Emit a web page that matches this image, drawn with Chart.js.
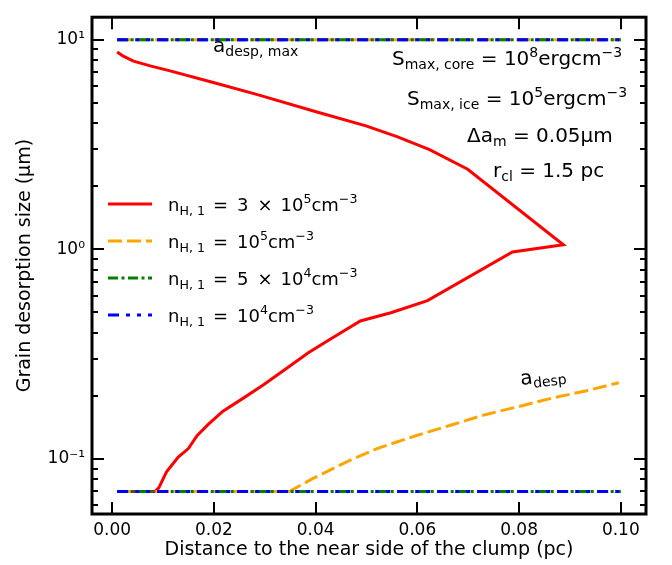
<!DOCTYPE html>
<html>
<head>
<meta charset="utf-8">
<script src="https://cdn.jsdelivr.net/npm/chart.js@4/dist/chart.umd.min.js"></script>
<style>
html,body{margin:0;padding:0;background:#fff;}
#c{display:block;}
</style>
</head>
<body>
<canvas id="c" width="672" height="565" style="width:672px;height:565px"></canvas>
<script>
// ---------------- data ----------------
const xTicks = [0.00, 0.02, 0.04, 0.06, 0.08, 0.10];
const yTicks = [0.1, 1, 10];
const yTickLabels = ['10\u207B\u00B9', '10\u2070', '10\u00B9'];

// red: n_H,1 = 3e5 (closed loop: lower branch out, upper branch back)
const redX = [0.001, 0.0085, 0.0092, 0.0107, 0.013, 0.015, 0.0167, 0.0189, 0.0218, 0.0258, 0.0297, 0.0342, 0.0385, 0.0427, 0.0488, 0.0548, 0.062, 0.0787, 0.0887,
              0.0699, 0.0624, 0.056, 0.0499, 0.0401, 0.0284, 0.0199, 0.0114, 0.0075, 0.0042, 0.0022, 0.001];
const redY = [0.07, 0.07, 0.073, 0.0867, 0.102, 0.112, 0.129, 0.146, 0.169, 0.195, 0.225, 0.269, 0.32, 0.37, 0.455, 0.498, 0.569, 0.971, 1.05,
              2.41, 2.99, 3.45, 3.88, 4.53, 5.48, 6.25, 7.1, 7.5, 7.9, 8.34, 8.74];

// orange: n_H,1 = 1e5 (a_desp)
const orangeX = [0.001, 0.0349, 0.0395, 0.046, 0.0525, 0.0597, 0.067, 0.0735, 0.08, 0.0865, 0.0931, 0.0996];
const orangeY = [0.07, 0.07, 0.0807, 0.0966, 0.113, 0.129, 0.146, 0.163, 0.178, 0.195, 0.211, 0.231];

// flat limits (a_desp,max and lower bound)
const flatX = [0.001, 0.1];
const aMaxY = [10, 10];
const aMinY = [0.07, 0.07];

const X_MIN = -0.00395, X_MAX = 0.10495;
const Y_MIN = 0.0546, Y_MAX = 12.8;

const pts = (xs, ys) => xs.map((x, i) => ({x: x, y: ys[i]}));
const FONT = "'DejaVu Sans', sans-serif";

const RED = '#ff0000', ORANGE = '#ffa500', GREEN = '#008000', BLUE = '#0000ff';
const DASH_O = [14, 5], DASH_G = [10, 3.5, 3, 3.5], DASH_B = [11, 7, 4, 7, 4, 7];

function ds(data, color, dash) {
  return {data: data, showLine: true, borderColor: color, backgroundColor: color,
          borderWidth: 3, borderDash: dash, pointRadius: 0, tension: 0, fill: false};
}

const datasets = [
  ds(pts(flatX, aMaxY), BLUE, DASH_B),
  ds(pts(flatX, aMinY), BLUE, DASH_B),
  ds(pts(flatX, aMaxY), GREEN, DASH_G),
  ds(pts(flatX, aMinY), GREEN, DASH_G),
  ds(pts(flatX, aMaxY), ORANGE, DASH_O),
  ds(pts(orangeX, orangeY), ORANGE, DASH_O),
  ds(pts(redX, redY), RED, []),
];

// ---------- rich text helper (sub/superscripts, gaps) ----------
// segment: [text, type, gapPx]; type 0 normal, 1 sub, 2 sup, 3 gap
function drawRich(ctx, x, y, segs, size) {
  ctx.textBaseline = 'alphabetic';
  ctx.textAlign = 'left';
  let cx = x;
  for (const s of segs) {
    const type = s[1] || 0;
    if (type === 3) { cx += s[2]; continue; }
    const fs = type ? size * 0.7 : size;
    ctx.font = fs + 'px ' + FONT;
    let dy = 0;
    if (type === 1) dy = size * 0.22;
    if (type === 2) dy = -size * 0.42;
    ctx.fillText(s[0], cx, y + dy);
    cx += ctx.measureText(s[0]).width;
  }
}

const G = (px) => ['', 3, px];
const legendItems = [
  {color: RED, dash: [], segs: [['n'], ['H,', 1], G(4), ['1', 1], G(8), ['='], G(9), ['3'], G(9), ['\u00D7'], G(8), ['10'], ['5', 2], ['cm'], ['\u22123', 2]]},
  {color: ORANGE, dash: DASH_O, segs: [['n'], ['H,', 1], G(4), ['1', 1], G(8), ['='], G(9), ['10'], ['5', 2], ['cm'], ['\u22123', 2]]},
  {color: GREEN, dash: DASH_G, segs: [['n'], ['H,', 1], G(4), ['1', 1], G(8), ['='], G(9), ['5'], G(9), ['\u00D7'], G(8), ['10'], ['4', 2], ['cm'], ['\u22123', 2]]},
  {color: BLUE, dash: DASH_B, segs: [['n'], ['H,', 1], G(4), ['1', 1], G(8), ['='], G(9), ['10'], ['4', 2], ['cm'], ['\u22123', 2]]},
];
const legendY = [204, 241, 278, 315];

const annotations = [
  {x: 392, y: 65, segs: [['S'], ['max, core', 1], [' = 10'], ['8', 2], ['ergcm'], ['\u22123', 2]]},
  {x: 407, y: 105, segs: [['S'], ['max, ice', 1], [' = 10'], ['5', 2], ['ergcm'], ['\u22123', 2]]},
  {x: 467, y: 142, segs: [['\u0394a'], ['m', 1], [' = 0.05\u03BCm']]},
  {x: 493, y: 177, segs: [['r'], ['cl', 1], [' = 1.5 pc']]},
];

const decorPlugin = {
  id: 'decor',
  afterDraw(chart) {
    const ctx = chart.ctx;
    const a = chart.chartArea;
    const xs = chart.scales.x, ys = chart.scales.y;
    ctx.save();
    ctx.strokeStyle = '#000';
    ctx.fillStyle = '#000';
    // ticks inward
    ctx.lineWidth = 2;
    ctx.setLineDash([]);
    ctx.beginPath();
    for (const v of xTicks) {
      const px = Math.round(xs.getPixelForValue(v));
      ctx.moveTo(px, a.bottom); ctx.lineTo(px, a.bottom - 12);
      ctx.moveTo(px, a.top); ctx.lineTo(px, a.top + 12);
    }
    for (let e = -2; e <= 1; e++) {
      for (let m = 1; m <= 9; m++) {
        const v = m * Math.pow(10, e);
        if (v < Y_MIN || v > Y_MAX) continue;
        const py = Math.round(ys.getPixelForValue(v));
        const len = m === 1 ? 12 : 6;
        ctx.moveTo(a.left, py); ctx.lineTo(a.left + len, py);
        ctx.moveTo(a.right, py); ctx.lineTo(a.right - len, py);
      }
    }
    ctx.stroke();
    // frame
    ctx.lineWidth = 3;
    ctx.strokeRect(a.left, a.top, a.right - a.left, a.bottom - a.top);

    // legend
    for (let i = 0; i < legendItems.length; i++) {
      const it = legendItems[i];
      const y = legendY[i];
      ctx.strokeStyle = it.color;
      ctx.lineWidth = 3;
      ctx.setLineDash(it.dash);
      ctx.beginPath();
      ctx.moveTo(108, y); ctx.lineTo(152, y);
      ctx.stroke();
      ctx.setLineDash([]);
      ctx.fillStyle = '#000';
      drawRich(ctx, 168, y + 7, it.segs, 18);
    }

    // annotations
    ctx.fillStyle = '#000';
    for (const an of annotations) drawRich(ctx, an.x, an.y, an.segs, 20);

    // a_desp,max
    drawRich(ctx, 213, 52, [['a'], ['desp, max', 1]], 20);

    // a_desp (rotated)
    ctx.save();
    ctx.translate(521, 385);
    ctx.rotate(-7 * Math.PI / 180);
    drawRich(ctx, 0, 0, [['a'], ['desp', 1]], 20);
    ctx.restore();

    ctx.restore();
  }
};

new Chart(document.getElementById('c'), {
  type: 'scatter',
  data: {datasets: datasets},
  options: {
    responsive: false,
    animation: false,
    devicePixelRatio: 1,
    layout: {padding: {top: 8, right: 26, left: 0, bottom: 0}},
    plugins: {legend: {display: false}, tooltip: {enabled: false}},
    scales: {
      x: {
        type: 'linear', min: X_MIN, max: X_MAX,
        afterFit: s => { s.height = 51; },
        afterBuildTicks: s => { s.ticks = xTicks.map(v => ({value: v})); },
        grid: {display: false, drawTicks: false, tickLength: 0},
        border: {display: false},
        ticks: {color: '#000', font: {family: FONT, size: 17}, padding: 6, maxRotation: 0, autoSkip: false,
                callback: v => Number(v).toFixed(2)},
        title: {display: true, text: 'Distance to the near side of the clump (pc)', color: '#000',
                font: {family: FONT, size: 19}, padding: {top: 0, bottom: 4}}
      },
      y: {
        type: 'logarithmic', min: Y_MIN, max: Y_MAX,
        afterFit: s => { s.width = 92; },
        afterBuildTicks: s => { s.ticks = yTicks.map(v => ({value: v})); },
        grid: {display: false, drawTicks: false, tickLength: 0},
        border: {display: false},
        ticks: {color: '#000', font: {family: FONT, size: 17}, padding: 7, autoSkip: false,
                callback: (v, i) => yTickLabels[i]},
        title: {display: true, text: 'Grain desorption size (\u03BCm)', color: '#000',
                font: {family: FONT, size: 19}, padding: {top: 14, bottom: 0}}
      }
    }
  },
  plugins: [decorPlugin]
});
</script>
</body>
</html>
